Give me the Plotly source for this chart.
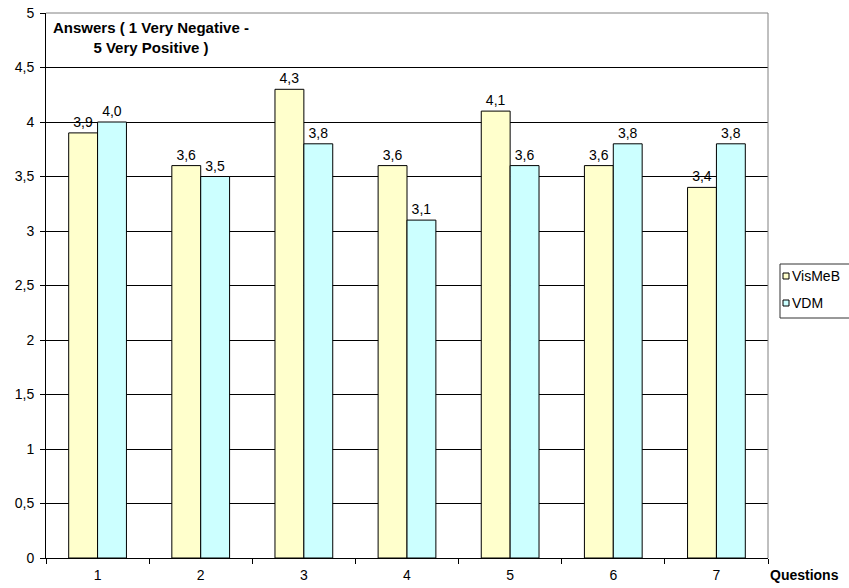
import plotly.graph_objects as go

questions = ["1", "2", "3", "4", "5", "6", "7"]
vismeb = [3.9, 3.6, 4.3, 3.6, 4.1, 3.6, 3.4]
vdm = [4.0, 3.5, 3.8, 3.1, 3.6, 3.8, 3.8]
y_ticks = [0, 0.5, 1, 1.5, 2, 2.5, 3, 3.5, 4, 4.5, 5]
series_colors = ["#FFFFCC", "#CCFFFF"]
series_names = ["VisMeB", "VDM"]

FAM = "Liberation Sans, Arial, sans-serif"
font = dict(family=FAM, size=14, color="black")

# plot area in pixels (used to place the legend box in paper units)
W, H = 849, 588
L, R, T, B = 46, 81, 13, 30
PW, PH = W - L - R, H - T - B


def px_x(x):
    return (x - L) / PW


def px_y(y):
    return (H - B - y) / PH


fig = go.Figure()
for name, vals, col in zip(series_names, [vismeb, vdm], series_colors):
    fig.add_trace(go.Bar(
        x=questions, y=vals, name=name,
        marker=dict(color=col, line=dict(color="black", width=1)),
        text=vals, texttemplate="%{y:.1f}", textposition="outside",
        textfont=font, cliponaxis=False, showlegend=False,
    ))

shapes = [
    dict(type="line", xref="paper", yref="paper", x0=0, x1=1, y0=1, y1=1,
         line=dict(color="#808080", width=1)),
    dict(type="line", xref="paper", yref="paper", x0=1, x1=1, y0=0, y1=1,
         line=dict(color="#808080", width=1)),
    # legend frame
    dict(type="rect", xref="paper", yref="paper",
         x0=px_x(780), x1=px_x(856), y0=px_y(318), y1=px_y(264),
         line=dict(color="#333333", width=1), fillcolor="white"),
]
annotations = [
    dict(text="<b>Answers ( 1 Very Negative -<br>5 Very Positive )</b>",
         xref="paper", yref="paper", x=0.007, y=0.992, xanchor="left", yanchor="top",
         showarrow=False, align="center",
         font=dict(family=FAM, size=15, color="black")),
    dict(text="<b>Questions</b>", xref="paper", yref="paper", x=px_x(768), y=px_y(565),
         xanchor="left", yanchor="top", showarrow=False,
         font=dict(family=FAM, size=14, color="black")),
]
# legend entries
for i, (name, col) in enumerate(zip(series_names, series_colors)):
    cy = 276 + 27 * i
    shapes.append(dict(type="rect", xref="paper", yref="paper",
                       x0=px_x(783), x1=px_x(789), y0=px_y(cy + 3), y1=px_y(cy - 3),
                       line=dict(color="black", width=1), fillcolor=col))
    annotations.append(dict(text=name, xref="paper", yref="paper",
                            x=px_x(790), y=px_y(cy), xanchor="left", yanchor="middle",
                            showarrow=False, font=dict(family=FAM, size=14, color="black")))

fig.update_layout(
    width=W, height=H,
    margin=dict(l=L, r=R, t=T, b=B),
    paper_bgcolor="white", plot_bgcolor="white",
    separators=", ",
    font=font,
    barmode="group", bargap=0.44, bargroupgap=0.0,
    showlegend=False,
    xaxis=dict(
        type="category", showgrid=False, showline=True, linecolor="black", linewidth=1,
        ticks="outside", tickson="boundaries", ticklen=5, tickcolor="black",
        tickfont=font, zeroline=False, automargin=False, ticklabelstandoff=4,
    ),
    yaxis=dict(
        range=[0, 5], tickvals=y_ticks, showgrid=True, gridcolor="black", gridwidth=1,
        showline=True, linecolor="black", linewidth=1, ticks="outside", ticklen=5,
        tickcolor="black", tickfont=font, zeroline=False, automargin=False,
        ticklabelstandoff=3,
    ),
    shapes=shapes,
    annotations=annotations,
)

fig.write_html("out.html")
